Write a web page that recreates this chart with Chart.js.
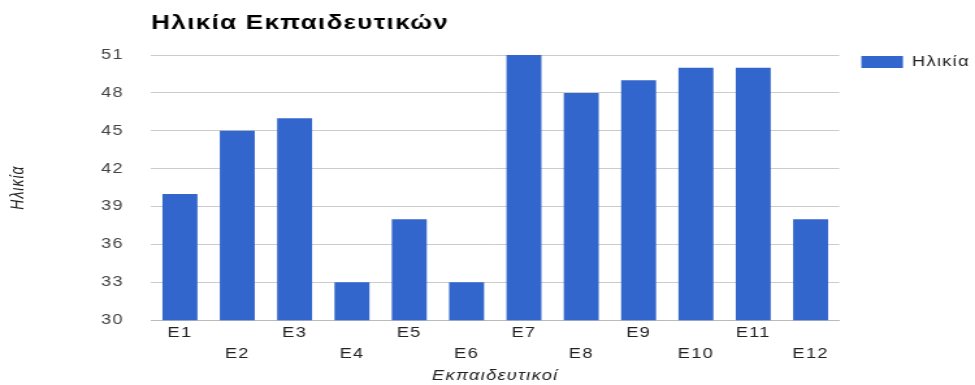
<!DOCTYPE html>
<html>
<head>
<meta charset="utf-8">
<script src="https://cdn.jsdelivr.net/npm/chart.js@4/dist/chart.umd.min.js"></script>
<style>
  html, body { margin: 0; padding: 0; background: #fff; overflow: hidden; }
  #wrap { width: 750px; height: 385px; transform: scaleX(1.3); transform-origin: 0 0; }
</style>
</head>
<body>
<div id="wrap"><canvas id="chart"></canvas></div>
<script>
// data
const teachers = ["E1", "E2", "E3", "E4", "E5", "E6", "E7", "E8", "E9", "E10", "E11", "E12"];
const ages = [40, 45, 46, 33, 38, 33, 51, 48, 49, 50, 50, 38];
const yTicks = [30, 33, 36, 39, 42, 45, 48, 51];

const font = "Arial, 'Liberation Sans', sans-serif";

// the old chart's text is a little wider, and its legend sits level with the top gridline
const tweaks = {
  id: "tweaks",
  afterLayout(chart) {
    const lg = chart.legend;
    lg.top -= 17;
    lg.bottom -= 17;
  },
  beforeDraw(chart) {
    chart.ctx.letterSpacing = "1px";
  },
};

new Chart(document.getElementById("chart"), {
  type: "bar",
  data: {
    labels: teachers,
    datasets: [
      {
        label: "Ηλικία",
        data: ages,
        backgroundColor: "#3366cc",
        borderWidth: 0,
        barPercentage: 1,
        categoryPercentage: 0.61,
      },
    ],
  },
  options: {
    responsive: true,
    maintainAspectRatio: false,
    animation: false,
    layout: { padding: 0 },
    plugins: {
      title: {
        display: true,
        text: "Ηλικία Εκπαιδευτικών",
        align: "start",
        fullSize: false,
        color: "#000",
        font: { family: font, size: 20, weight: "bold" },
        padding: { top: 11, bottom: 20 },
      },
      legend: {
        position: "right",
        align: "start",
        fullSize: false,
        labels: {
          boxWidth: 32,
          boxHeight: 12,
          color: "#222",
          font: { family: font, size: 14 },
          padding: 17,
        },
      },
      tooltip: { enabled: false },
    },
    scales: {
      x: {
        grid: { display: false, drawTicks: false },
        border: { color: "#bbb" },
        ticks: {
          autoSkip: false,
          maxRotation: 0,
          color: "#222",
          padding: 2,
          font: { family: font, size: 14, lineHeight: 1.5 },
          callback: (v, i) => (i % 2 ? ["", teachers[i]] : teachers[i]),
        },
        title: {
          display: true,
          text: "Εκπαιδευτικοί",
          color: "#222",
          font: { family: font, size: 14, style: "italic" },
          padding: { top: 2, bottom: 0 },
        },
      },
      y: {
        min: 30,
        max: 51,
        afterBuildTicks: (axis) => {
          axis.ticks = yTicks.map((v) => ({ value: v }));
        },
        grid: { color: "#ccc", drawTicks: false },
        border: { display: false },
        ticks: {
          color: "#444",
          padding: 21,
          font: { family: font, size: 14 },
        },
        title: {
          display: true,
          text: "Ηλικία",
          color: "#222",
          font: { family: font, size: 14, style: "italic" },
          padding: { top: 6, bottom: 36 },
        },
      },
    },
  },
  plugins: [tweaks],
});
</script>
</body>
</html>
